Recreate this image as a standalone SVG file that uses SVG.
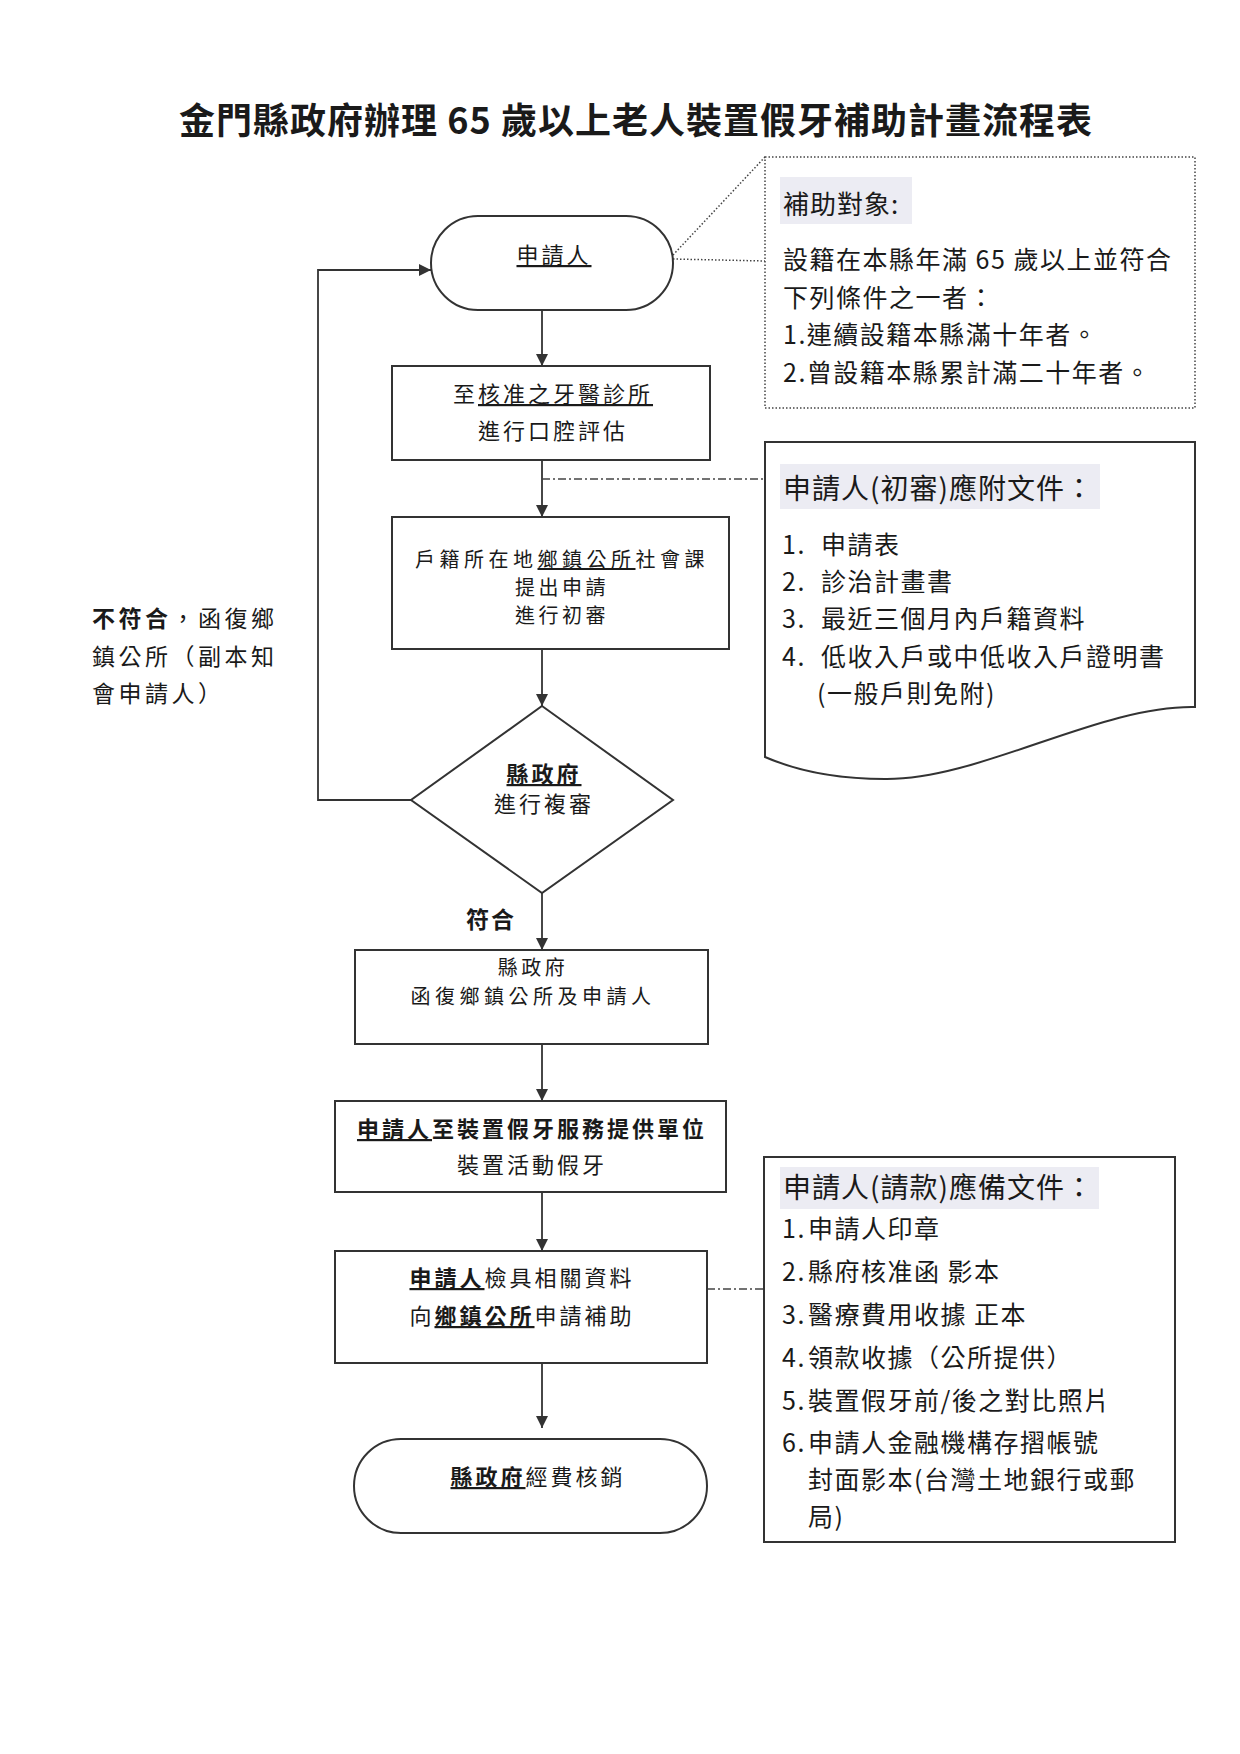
<svg xmlns="http://www.w3.org/2000/svg" width="1240" height="1754" viewBox="0 0 1240 1754">
<style>
text{font-family:"Noto Sans CJK TC","Noto Sans CJK SC",sans-serif;fill:#1a1a1a}
.title{font-size:36px;font-weight:700;letter-spacing:1px}
.n{font-size:22px;letter-spacing:3px}
.t{font-size:20px;letter-spacing:3.5px}
.b{font-weight:700}
.u{text-decoration:underline}
.p{font-size:25px;letter-spacing:1.5px}
.h{font-size:28px;letter-spacing:1px}
.lbl{font-size:23px;letter-spacing:3.5px}
.box{fill:#fff;stroke:#333;stroke-width:2}
.hbg{fill:#ececf3}
.line{fill:none;stroke:#333;stroke-width:1.8}
.dot{fill:none;stroke:#444;stroke-width:1.5;stroke-dasharray:1.5 2}
.dd{fill:none;stroke:#444;stroke-width:1.3;stroke-dasharray:8 3 2 3}
</style>
<defs>
<marker id="ah" viewBox="0 0 10 10" refX="10" refY="5" markerWidth="12" markerHeight="14" markerUnits="userSpaceOnUse" orient="auto">
<path d="M0,0 L10,5 L0,10 Z" fill="#333"/>
</marker>
</defs>
<rect width="1240" height="1754" fill="#fff"/>
<text class="title" x="636" y="134" text-anchor="middle">金門縣政府辦理 65 歲以上老人裝置假牙補助計畫流程表</text>

<g id="connectors">
<line class="line" x1="542" y1="310" x2="542" y2="366" marker-end="url(#ah)"/>
<line class="line" x1="542" y1="460" x2="542" y2="517" marker-end="url(#ah)"/>
<line class="line" x1="542" y1="649" x2="542" y2="706" marker-end="url(#ah)"/>
<line class="line" x1="542" y1="893" x2="542" y2="950" marker-end="url(#ah)"/>
<line class="line" x1="542" y1="1044" x2="542" y2="1101" marker-end="url(#ah)"/>
<line class="line" x1="542" y1="1192" x2="542" y2="1251" marker-end="url(#ah)"/>
<line class="line" x1="542" y1="1363" x2="542" y2="1428" marker-end="url(#ah)"/>
<polyline class="line" points="411,800 318,800 318,270 431,270" marker-end="url(#ah)"/>
<line class="dot" x1="673" y1="255" x2="765" y2="157"/>
<line class="dot" x1="673" y1="259" x2="765" y2="261"/>
<line class="dd" x1="542" y1="479" x2="765" y2="479"/>
<line class="dd" x1="707" y1="1289" x2="764" y2="1289"/>
</g>

<g id="n1">
<rect class="box" x="431" y="216" width="242" height="94" rx="47" ry="47"/>
<text class="n" x="554" y="263" text-anchor="middle"><tspan class="u">申請人</tspan></text>
</g>

<g id="n2">
<rect class="box" x="392" y="366" width="318" height="94"/>
<text class="n" x="553" y="402" text-anchor="middle">至<tspan class="u">核准之牙醫診所</tspan></text>
<text class="n" x="553" y="439" text-anchor="middle">進行口腔評估</text>
</g>

<g id="n3">
<rect class="box" x="392" y="517" width="337" height="132"/>
<text class="t" x="562" y="567" text-anchor="middle" style="letter-spacing:4.5px">戶籍所在地<tspan class="u">鄉鎮公所</tspan>社會課</text>
<text class="t" x="562" y="595" text-anchor="middle">提出申請</text>
<text class="t" x="562" y="623" text-anchor="middle">進行初審</text>
</g>

<g id="n4">
<polygon class="box" points="542,706 673,800 542,893 411,800"/>
<text class="n b" x="544" y="782" text-anchor="middle"><tspan class="u">縣政府</tspan></text>
<text class="n" x="544" y="812" text-anchor="middle">進行複審</text>
</g>

<g id="lbl-no">
<text class="lbl" x="92" y="627"><tspan class="b">不符合</tspan>，函復鄉</text>
<text class="lbl" x="92" y="665">鎮公所（副本知</text>
<text class="lbl" x="92" y="702">會申請人）</text>
</g>

<g id="lbl-yes">
<text class="lbl b" x="466" y="928" style="letter-spacing:2px">符合</text>
</g>

<g id="n5">
<rect class="box" x="355" y="950" width="353" height="94"/>
<text class="t" x="533" y="975" text-anchor="middle">縣政府</text>
<text class="t" x="533" y="1004" text-anchor="middle" style="letter-spacing:4.5px">函復鄉鎮公所及申請人</text>
</g>

<g id="n6">
<rect class="box" x="335" y="1101" width="391" height="91"/>
<text class="n b" x="532" y="1137" text-anchor="middle"><tspan class="u">申請人</tspan>至裝置假牙服務提供單位</text>
<text class="n" x="532" y="1173" text-anchor="middle">裝置活動假牙</text>
</g>

<g id="n7">
<rect class="box" x="335" y="1251" width="372" height="112"/>
<text class="n" x="522" y="1286" text-anchor="middle"><tspan class="u b">申請人</tspan>檢具相關資料</text>
<text class="n" x="522" y="1324" text-anchor="middle">向<tspan class="u b">鄉鎮公所</tspan>申請補助</text>
</g>

<g id="n8">
<rect class="box" x="354" y="1439" width="353" height="94" rx="47" ry="47"/>
<text class="n" x="538" y="1485" text-anchor="middle"><tspan class="u b">縣政府</tspan>經費核銷</text>
</g>

<g id="note1">
<rect class="dot" x="765" y="157" width="430" height="251"/>
<rect class="hbg" x="780" y="177" width="132" height="47"/>
<text class="h" x="783" y="214" style="font-size:26px">補助對象:</text>
<text class="p" x="783" y="269">設籍在本縣年滿 65 歲以上並符合</text>
<text class="p" x="783" y="307">下列條件之一者：</text>
<text class="p" x="783" y="344">1.連續設籍本縣滿十年者。</text>
<text class="p" x="783" y="382">2.曾設籍本縣累計滿二十年者。</text>
</g>

<g id="note2">
<path class="box" d="M765,442 H1195 V707 C1100,705 980,780 885,779 C835,779 795,770 765,757 Z"/>
<rect class="hbg" x="780" y="464" width="320" height="45"/>
<text class="h" x="783" y="499">申請人(初審)應附文件：</text>
<text class="p" x="782" y="554">1.<tspan x="821">申請表</tspan></text>
<text class="p" x="782" y="591">2.<tspan x="821">診治計畫書</tspan></text>
<text class="p" x="782" y="628">3.<tspan x="821">最近三個月內戶籍資料</tspan></text>
<text class="p" x="782" y="666">4.<tspan x="821">低收入戶或中低收入戶證明書</tspan></text>
<text class="p" x="817" y="703">(一般戶則免附)</text>
</g>

<g id="note3">
<rect class="box" x="764" y="1157" width="411" height="385"/>
<rect class="hbg" x="780" y="1167" width="319" height="42"/>
<text class="h" x="783" y="1198">申請人(請款)應備文件：</text>
<text class="p" x="782" y="1238">1.<tspan x="808">申請人印章</tspan></text>
<text class="p" x="782" y="1281">2.<tspan x="808">縣府核准函 影本</tspan></text>
<text class="p" x="782" y="1324">3.<tspan x="808">醫療費用收據 正本</tspan></text>
<text class="p" x="782" y="1367">4.<tspan x="808">領款收據（公所提供）</tspan></text>
<text class="p" x="782" y="1410">5.<tspan x="808">裝置假牙前/後之對比照片</tspan></text>
<text class="p" x="782" y="1452">6.<tspan x="808">申請人金融機構存摺帳號</tspan></text>
<text class="p" x="808" y="1489">封面影本(台灣土地銀行或郵</text>
<text class="p" x="808" y="1526">局)</text>
</g>
</svg>
